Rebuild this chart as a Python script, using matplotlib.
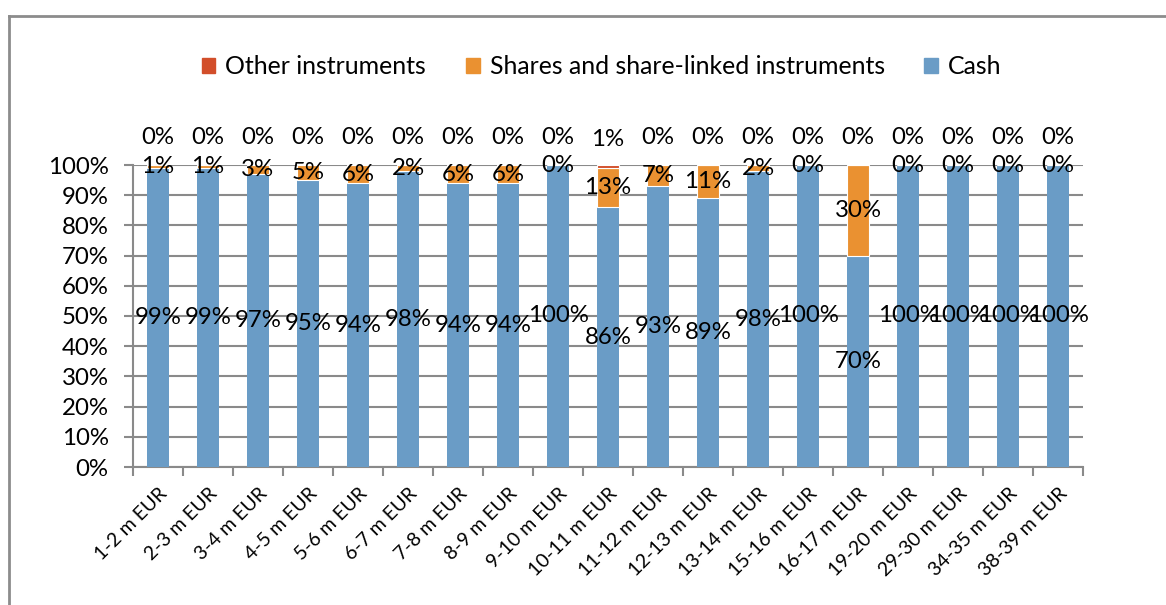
import numpy as np
import matplotlib
matplotlib.use("Agg")
import matplotlib.pyplot as plt
from matplotlib.lines import Line2D
from matplotlib.patches import Patch

plt.rcParams['font.family'] = ['Lato', 'DejaVu Sans']

categories = ["1-2 m EUR", "2-3 m EUR", "3-4 m EUR", "4-5 m EUR", "5-6 m EUR",
              "6-7 m EUR", "7-8 m EUR", "8-9 m EUR", "9-10 m EUR", "10-11 m EUR",
              "11-12 m EUR", "12-13 m EUR", "13-14 m EUR", "15-16 m EUR", "16-17 m EUR",
              "19-20 m EUR", "29-30 m EUR", "34-35 m EUR", "38-39 m EUR"]
cash = [99, 99, 97, 95, 94, 98, 94, 94, 100, 86, 93, 89, 98, 100, 70, 100, 100, 100, 100]
shares = [1, 1, 3, 5, 6, 2, 6, 6, 0, 13, 7, 11, 2, 0, 30, 0, 0, 0, 0]
other = [0, 0, 0, 0, 0, 0, 0, 0, 0, 1, 0, 0, 0, 0, 0, 0, 0, 0, 0]
yticks = [0, 10, 20, 30, 40, 50, 60, 70, 80, 90, 100]

C_CASH = '#6A9CC6'
C_SHARES = '#EA9131'
C_OTHER = '#D24E2A'
GRID = '#8A8A8A'

W, H = 1166, 605
fig = plt.figure(figsize=(W / 100, H / 100), dpi=100)
fig.patch.set_facecolor('white')

# outer frame (left and top only visible)
fig.add_artist(Line2D([8.5 / W, 8.5 / W], [0, 1 - 15.5 / H], transform=fig.transFigure,
                      color='#8C8C8C', lw=2))
fig.add_artist(Line2D([8.5 / W, 1], [1 - 15.5 / H, 1 - 15.5 / H], transform=fig.transFigure,
                      color='#8C8C8C', lw=2))

left, right, top, bottom = 133, 1083, 165, 467
ax = fig.add_axes([left / W, 1 - bottom / H, (right - left) / W, (bottom - top) / H])

n = len(categories)
x = np.arange(n)
cash_f = np.array(cash) / 100
shares_f = np.array(shares) / 100
other_f = np.array(other) / 100
bw = 0.45

ax.bar(x, cash_f, bw, color=C_CASH, edgecolor='none', zorder=3)
ax.bar(x, shares_f, bw, bottom=cash_f, color=C_SHARES, edgecolor='white', linewidth=0.8, zorder=3)
ax.bar(x, other_f, bw, bottom=cash_f + shares_f, color=C_OTHER, edgecolor='white', linewidth=0.8, zorder=3)

fs = 17.3
for i in range(n):
    ax.text(x[i], cash_f[i] / 2, f"{cash[i]}%", ha='center', va='center', fontsize=fs, zorder=5)
    ax.text(x[i], cash_f[i] + shares_f[i] / 2, f"{shares[i]}%", ha='center', va='center', fontsize=fs, zorder=5)
    ax.text(x[i], cash_f[i] + shares_f[i] + other_f[i] / 2 + 0.09, f"{other[i]}%", ha='center', va='center',
            fontsize=fs, zorder=5)

ax.set_xlim(-0.5, n - 0.5)
ax.set_ylim(0, 1)
ax.set_yticks(np.array(yticks) / 100)
ax.set_yticklabels([f"{t}%" for t in yticks], fontsize=fs)
ax.yaxis.grid(True, color=GRID, lw=1.5, zorder=0)
ax.set_axisbelow(True)

ax.set_xticks(x)
ax.set_xticklabels(categories, rotation=45, ha='right', rotation_mode='anchor', fontsize=14)
ax.set_xticks(np.arange(n + 1) - 0.5, minor=True)
ax.tick_params(axis='x', which='major', length=0, pad=13)
ax.tick_params(axis='x', which='minor', length=6.5, width=1.5, color=GRID)
ax.tick_params(axis='y', length=6.5, width=1.5, color=GRID, pad=11)

for s in ['top', 'right']:
    ax.spines[s].set_visible(False)
for s in ['left', 'bottom']:
    ax.spines[s].set_color(GRID)
    ax.spines[s].set_linewidth(1.5)

handles = [Patch(color=C_OTHER), Patch(color=C_SHARES), Patch(color=C_CASH)]
labels = ["Other instruments", "Shares and share-linked instruments", "Cash"]
fig.legend(handles, labels, loc='center', bbox_to_anchor=(0.516, 1 - 67 / H), ncol=3, frameon=False,
           fontsize=17.9, handlelength=0.55, handleheight=0.55, handletextpad=0.4, columnspacing=1.6)

fig.savefig("out.png", dpi=100, facecolor='white')
